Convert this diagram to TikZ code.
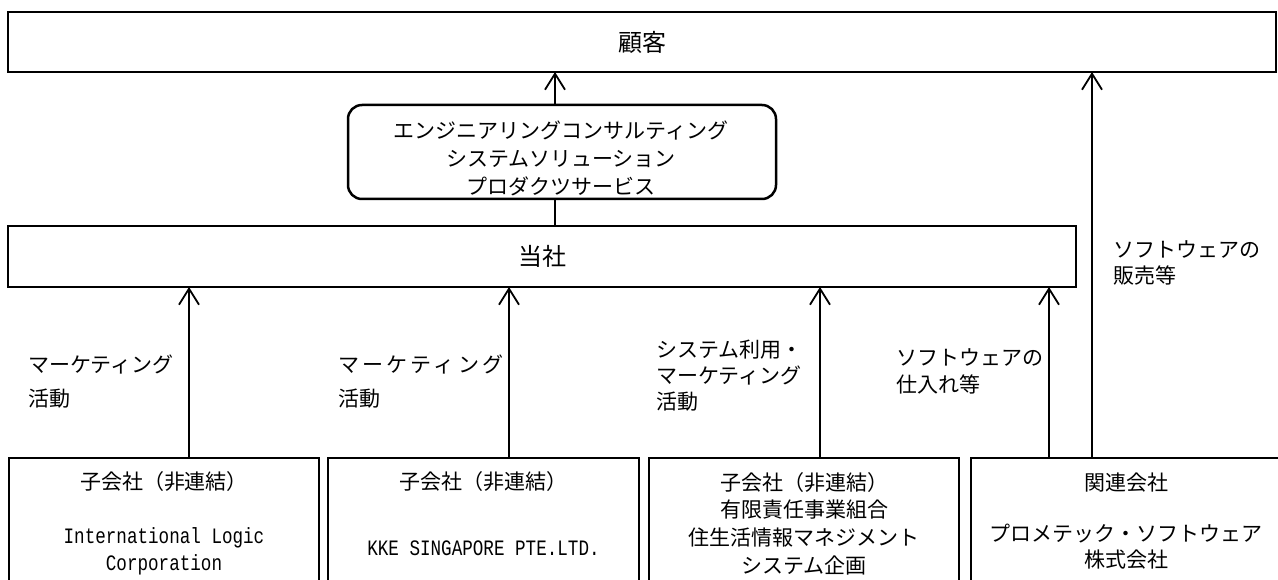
\documentclass[tikz,border=0pt]{standalone}
\usepackage{fontspec}
\setmainfont{Noto Sans CJK JP}
\newfontfamily\monofont[FakeStretch=0.8]{Liberation Mono}
\usetikzlibrary{arrows.meta}
\begin{document}
\begin{tikzpicture}[x=1pt,y=-1pt,
  box/.style={draw, line width=2.5pt, outer sep=0pt, inner sep=0pt},
  arr/.style={line width=1.8pt, -{Straight Barb[length=16pt,width=20pt]}},
  conn/.style={line width=1.8pt},
  txt/.style={font=\fontsize{21}{27}\selectfont, inner sep=0pt, align=center},
  bigtxt/.style={font=\fontsize{24}{27}\selectfont, inner sep=0pt, align=center},
  mono/.style={font=\monofont\fontsize{22}{27}\selectfont, inner sep=0pt, align=center},
  lbl/.style={font=\fontsize{21}{27}\selectfont, inner sep=0pt, align=left, anchor=west}]
\useasboundingbox (0,0) rectangle (1278,580);
\clip (0,0) rectangle (1278,580);
% main boxes
\node[box, bigtxt, minimum width=1268pt, minimum height=60pt] (kokyaku) at (642,42) {顧客};
\node[box, rounded corners=14pt, minimum width=428pt, minimum height=94pt] (svc) at (562,152) {};
\node[txt, font=\fontsize{21}{28}\selectfont] (svct) at (561,158) {エンジニアリングコンサルティング\\システムソリューション\\プロダクツサービス};
\node[box, bigtxt, minimum width=1068pt, minimum height=61pt] (tosha) at (542,256.5) {当社};
% bottom boxes (cut by the picture edge)
\node[box, minimum width=310pt, minimum height=200pt, anchor=north] (b1) at (164,458) {};
\node[box, minimum width=311pt, minimum height=200pt, anchor=north] (b2) at (483.5,458) {};
\node[box, minimum width=310pt, minimum height=200pt, anchor=north] (b3) at (804,458) {};
\node[box, minimum width=310pt, minimum height=200pt, anchor=north] (b4) at (1126,458) {};
% box texts
\node[txt] (b1t) at (164,482) {子会社（非連結）};
\node[mono] (b1n) at (164,551.5) {International Logic\\Corporation};
\node[txt] (b2t) at (483.5,482) {子会社（非連結）};
\node[mono] (b2n) at (483.5,548) {KKE SINGAPORE PTE.LTD.};
\node[txt, font=\fontsize{21}{27.7}\selectfont] (b3t) at (804,523.5) {子会社（非連結）\\有限責任事業組合\\住生活情報マネジメント\\システム企画};
\node[txt] (b4t) at (1126,483) {関連会社};
\node[txt, font=\fontsize{21}{26}\selectfont] (b4n) at (1126,547) {プロメテック・ソフトウェア\\株式会社};
% connector x positions
\coordinate (x1) at (189,0);
\coordinate (x2) at (509,0);
\coordinate (x3) at (820,0);
\coordinate (x4) at (1049,0);
\coordinate (x5) at (1092,0);
\coordinate (xs) at (555,0);
% connectors
\draw[conn] (tosha.north -| xs) -- (svc.south -| xs);
\draw[arr] (svc.north -| xs) -- (kokyaku.south -| xs);
\draw[arr] (b1.north -| x1) -- (tosha.south -| x1);
\draw[arr] (b2.north -| x2) -- (tosha.south -| x2);
\draw[arr] (b3.north -| x3) -- (tosha.south -| x3);
\draw[arr] (b4.north -| x4) -- (tosha.south -| x4);
\draw[arr] (b4.north -| x5) -- (kokyaku.south -| x5);
% labels
\node[lbl, font=\fontsize{21}{34}\selectfont] (l1) at (28,382) {マーケティング\\活動};
\node[lbl, font=\fontsize{21}{34}\selectfont] (l2) at (338,382) {{\addfontfeature{LetterSpace=16}マーケティング}\\活動};
\node[lbl, font=\fontsize{21}{26}\selectfont] (l3) at (656,376) {システム利用・\\マーケティング\\活動};
\node[lbl] (l4) at (896,371.5) {ソフトウェアの\\仕入れ等};
\node[lbl, font=\fontsize{21}{26}\selectfont] (l5) at (1113,263) {ソフトウェアの\\販売等};
\end{tikzpicture}
\end{document}
